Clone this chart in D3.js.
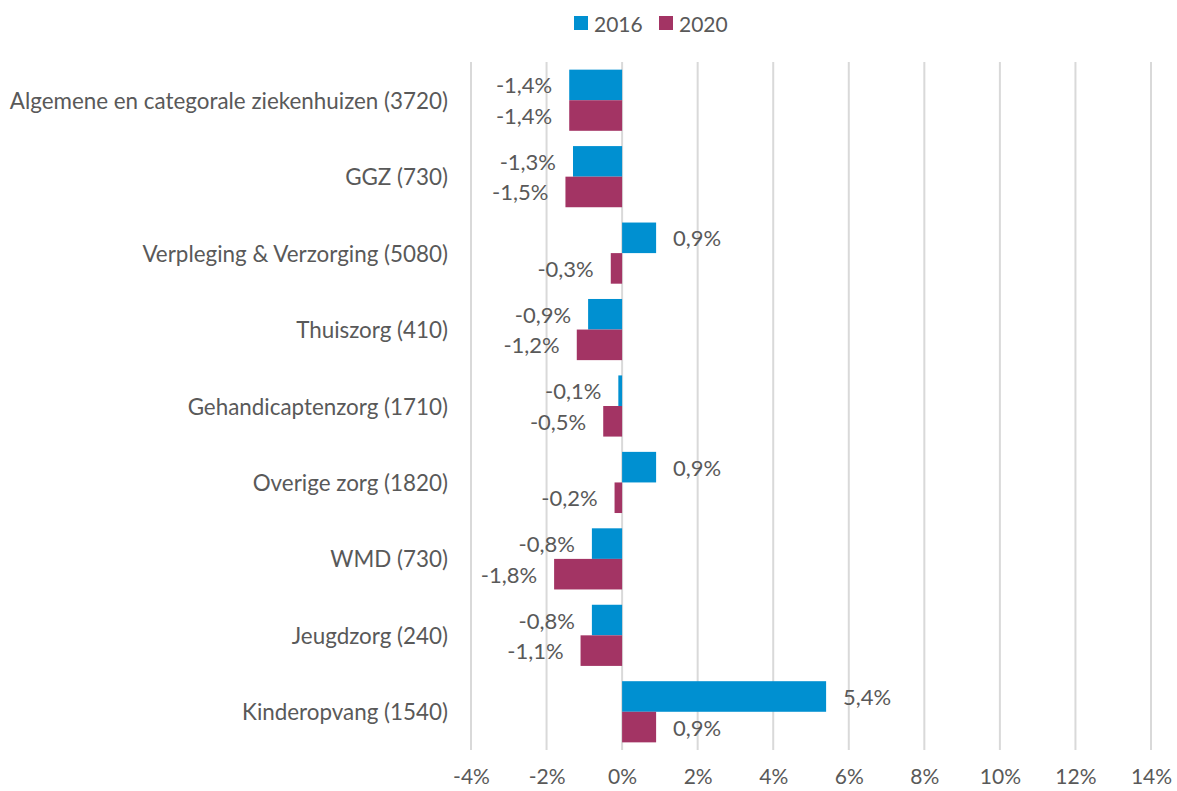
<!DOCTYPE html>
<html>
<head>
<meta charset="utf-8">
<script src="https://cdn.jsdelivr.net/npm/d3@7"></script>
<style>
  body { margin: 0; background: #fff; }
  text { font-family: Lato, "Open Sans", sans-serif; fill: #595959; }
</style>
</head>
<body>
<div id="chart"></div>
<script>
var categories = [
  "Algemene en categorale ziekenhuizen (3720)",
  "GGZ (730)",
  "Verpleging & Verzorging (5080)",
  "Thuiszorg (410)",
  "Gehandicaptenzorg (1710)",
  "Overige zorg (1820)",
  "WMD (730)",
  "Jeugdzorg (240)",
  "Kinderopvang (1540)"
];
var years = ["2016", "2020"];
var values2016 = [-1.4, -1.3, 0.9, -0.9, -0.1, 0.9, -0.8, -0.8, 5.4];
var values2020 = [-1.4, -1.5, -0.3, -1.2, -0.5, -0.2, -1.8, -1.1, 0.9];
var xTicks = [-4, -2, 0, 2, 4, 6, 8, 10, 12, 14];
var colors = ["#0090d1", "#a33464"];

var width = 1177, height = 791;
var margin = {top: 62, right: 26, bottom: 41, left: 471};

var svg = d3.select("#chart")
  .append("svg")
  .attr("width", width)
  .attr("height", height);

var x = d3.scaleLinear()
  .domain([-4, 14])
  .range([margin.left, width - margin.right]);

var y = d3.scaleBand()
  .domain(categories)
  .range([margin.top, height - margin.bottom])
  .paddingInner(0.2)
  .paddingOuter(0.1);

var ySub = d3.scaleBand()
  .domain(years)
  .range([0, y.bandwidth()]);

var fmt = function(v) { return v.toFixed(1).replace(".", ",") + "%"; };

// gridlines
svg.append("g")
  .selectAll("line")
  .data(xTicks)
  .enter().append("line")
  .attr("x1", function(d) { return x(d); })
  .attr("x2", function(d) { return x(d); })
  .attr("y1", margin.top)
  .attr("y2", height - margin.bottom)
  .attr("stroke", "#d9d9d9")
  .attr("stroke-width", 2);

// x axis labels
var xAxis = d3.axisBottom(x)
  .tickValues(xTicks)
  .tickSize(0)
  .tickPadding(19)
  .tickFormat(function(d) { return d + "%"; });

var gx = svg.append("g")
  .attr("transform", "translate(0," + (height - margin.bottom) + ")")
  .call(xAxis);
gx.select(".domain").remove();
gx.selectAll("text")
  .style("font-size", "21px")
  .style("font-family", "Lato, sans-serif")
  .attr("fill", "#595959");

// category labels
svg.append("g")
  .selectAll("text")
  .data(categories)
  .enter().append("text")
  .attr("x", margin.left - 23)
  .attr("y", function(d) { return y(d) + y.bandwidth() / 2; })
  .attr("text-anchor", "end")
  .attr("dominant-baseline", "central")
  .style("font-size", "22.4px")
  .text(function(d) { return d; });

var rows = [];
categories.forEach(function(c, i) {
  rows.push({cat: c, year: "2016", v: values2016[i], color: colors[0]});
  rows.push({cat: c, year: "2020", v: values2020[i], color: colors[1]});
});

// bars
svg.append("g")
  .selectAll("rect")
  .data(rows)
  .enter().append("rect")
  .attr("x", function(d) { return x(Math.min(0, d.v)); })
  .attr("y", function(d) { return y(d.cat) + ySub(d.year); })
  .attr("width", function(d) { return Math.abs(x(d.v) - x(0)); })
  .attr("height", ySub.bandwidth())
  .attr("fill", function(d) { return d.color; });

// value labels
svg.append("g")
  .selectAll("text")
  .data(rows)
  .enter().append("text")
  .attr("x", function(d) { return d.v < 0 ? x(d.v) - 17 : x(d.v) + 17; })
  .attr("y", function(d) { return y(d.cat) + ySub(d.year) + ySub.bandwidth() / 2; })
  .attr("text-anchor", function(d) { return d.v < 0 ? "end" : "start"; })
  .attr("dominant-baseline", "central")
  .style("font-size", "22px")
  .text(function(d) { return fmt(d.v); });

// legend
var legendItems = [
  {label: "2016", color: colors[0], x: 574},
  {label: "2020", color: colors[1], x: 659}
];
var lg = svg.append("g")
  .selectAll("g")
  .data(legendItems)
  .enter().append("g")
  .attr("transform", function(d) { return "translate(" + d.x + ",16)"; });
lg.append("rect")
  .attr("width", 14)
  .attr("height", 14)
  .attr("fill", function(d) { return d.color; });
lg.append("text")
  .attr("x", 20)
  .attr("y", 7)
  .attr("dominant-baseline", "central")
  .style("font-size", "21px")
  .text(function(d) { return d.label; });
</script>
</body>
</html>
